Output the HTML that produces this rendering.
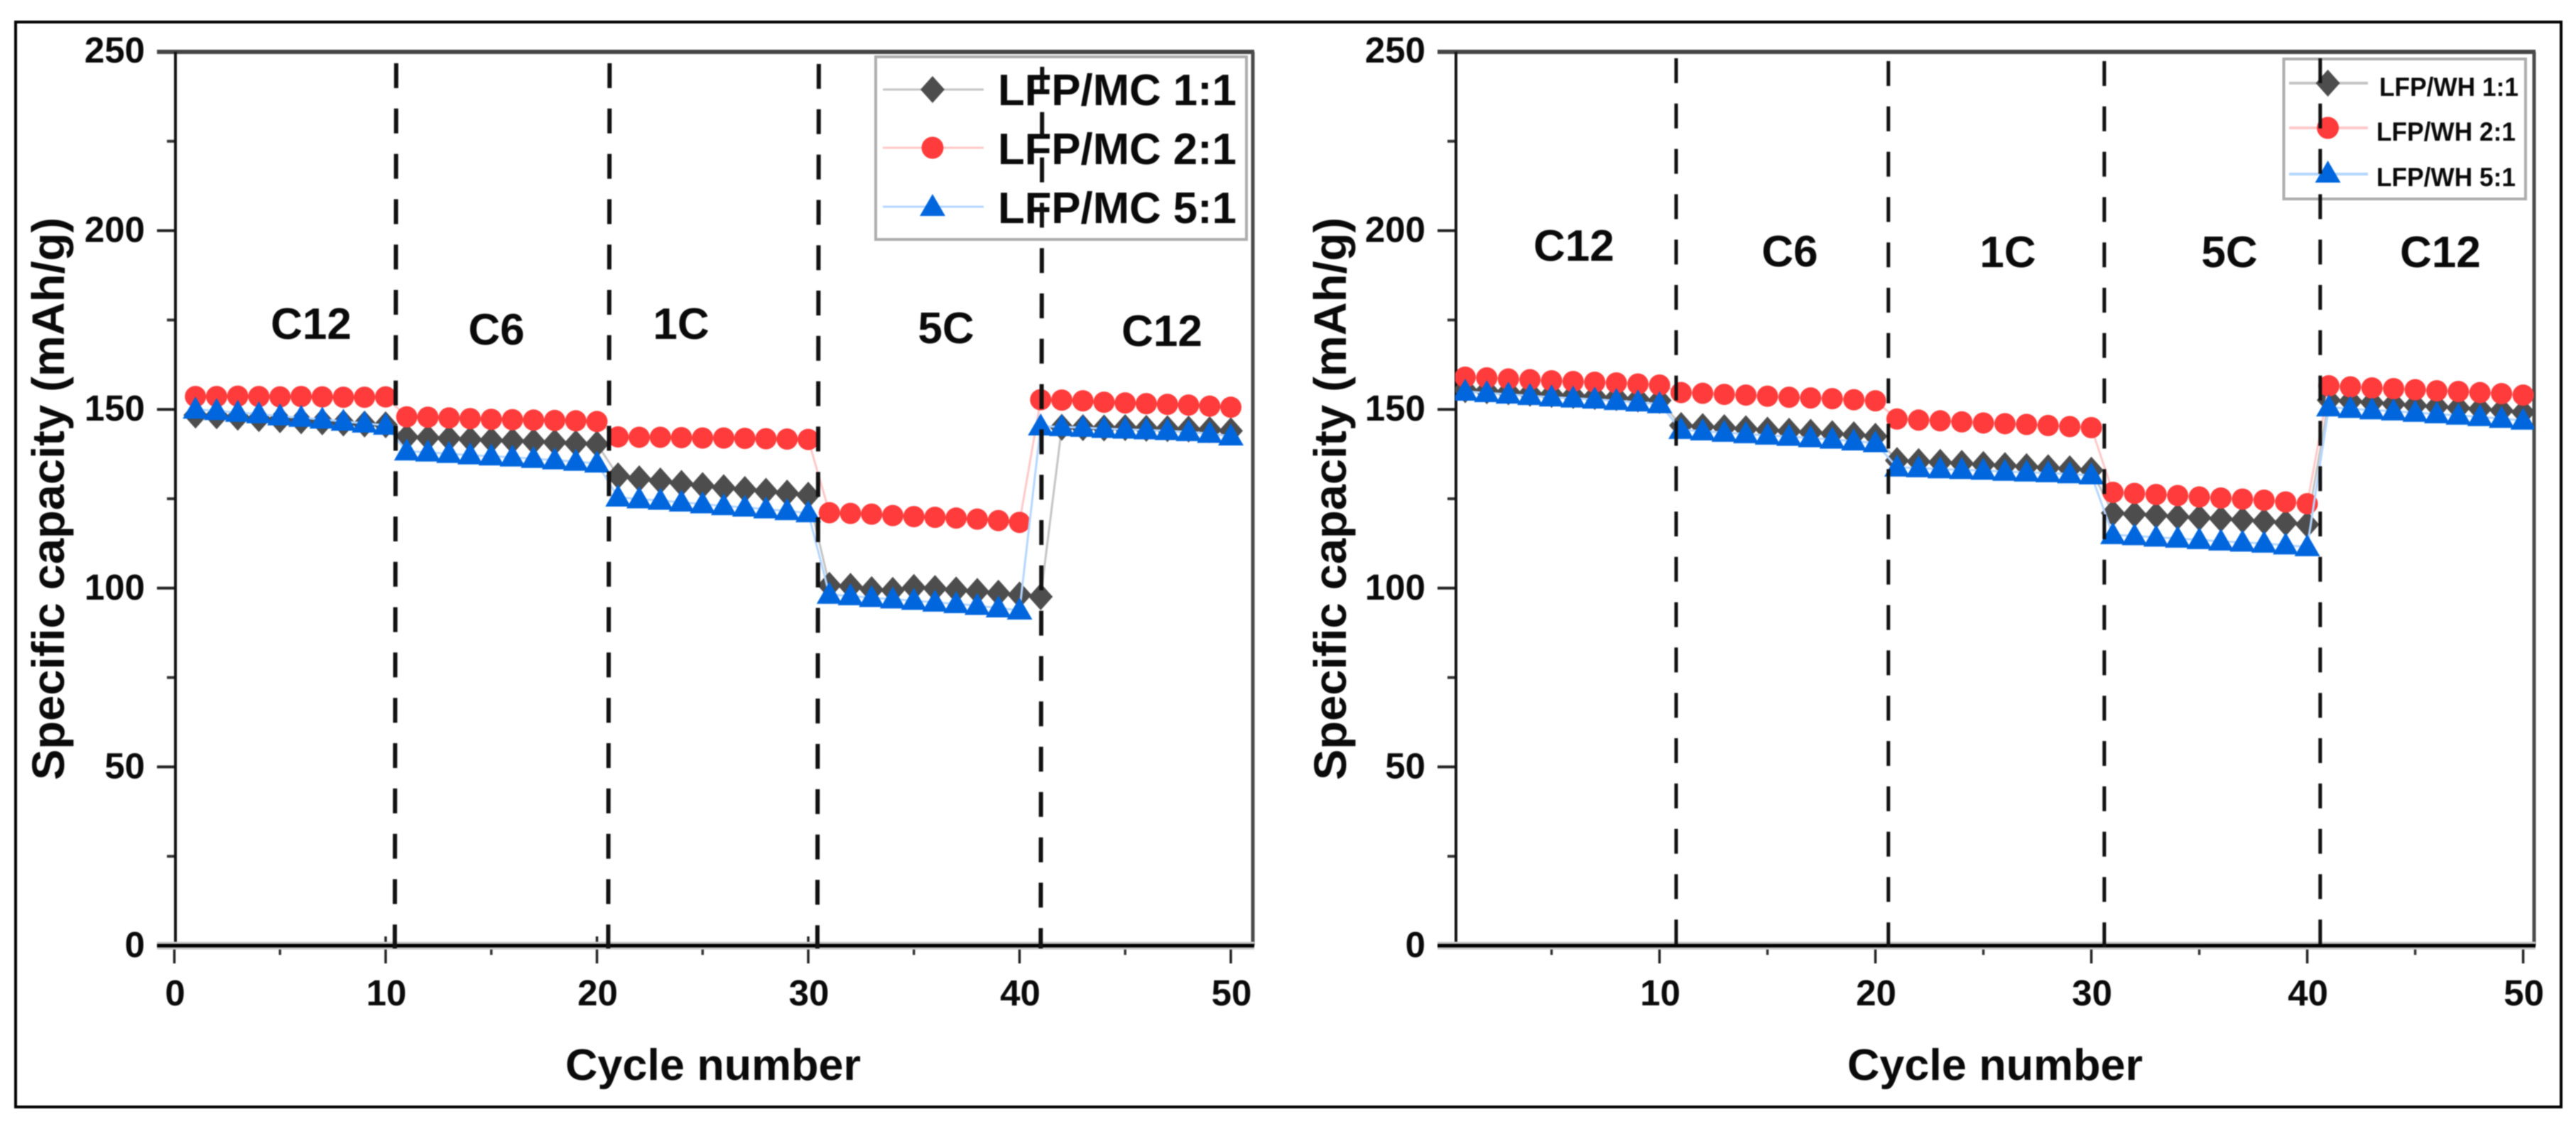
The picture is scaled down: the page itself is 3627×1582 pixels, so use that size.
<!DOCTYPE html>
<html lang="en">
<head>
<meta charset="utf-8">
<title>Specific capacity rate performance</title>
<style>
html,body{margin:0;padding:0;background:#fff;}
#figure{display:block;width:3627px;height:1582px;filter:blur(0.9px);}
text{font-family:"Liberation Sans",Arial,sans-serif;font-weight:bold;fill:#0a0a0a;}
</style>
</head>
<body>
<svg id="figure" xmlns="http://www.w3.org/2000/svg" width="3627" height="1582" viewBox="0 0 3627 1582">
  <defs>
    <clipPath id="clip-left"><rect x="247" y="73" width="1517" height="1258"/></clipPath>
    <clipPath id="clip-right"><rect x="2049" y="73" width="1519" height="1258"/></clipPath>
  </defs>
  <rect x="0" y="0" width="3627" height="1582" fill="#fff"/>
  <rect x="22" y="31" width="3584" height="1527" fill="#fff" stroke="#000" stroke-width="4"/>

  <g id="panel-left">
    <g id="left-axes"></g>
    <g id="left-marks" clip-path="url(#clip-left)"></g>
    <g>
      <rect x="1233" y="80" width="522" height="257" fill="#fff" stroke="#adadad" stroke-width="4"/>
      <g>
        <line x1="1243" x2="1385" y1="126" y2="126" stroke="#c4c4c4" stroke-width="3"/>
        <polygon points="1296,126 1313,107 1330,126 1313,145" fill="#4d4d4d"/>
        <text x="1405" y="148" font-size="62" textLength="336" lengthAdjust="spacingAndGlyphs">LFP/MC 1:1</text>
      </g>
      <g>
        <line x1="1243" x2="1385" y1="208" y2="208" stroke="#ffc8c8" stroke-width="3"/>
        <circle cx="1313" cy="208" r="15.5" fill="#ff3b3b"/>
        <text x="1405" y="231" font-size="62" textLength="336" lengthAdjust="spacingAndGlyphs">LFP/MC 2:1</text>
      </g>
      <g>
        <line x1="1243" x2="1385" y1="291" y2="291" stroke="#b4d6ff" stroke-width="3"/>
        <polygon points="1313,273 1331,304 1295,304" fill="#0066dd"/>
        <text x="1405" y="314" font-size="62" textLength="336" lengthAdjust="spacingAndGlyphs">LFP/MC 5:1</text>
      </g>
    </g>
    <g id="left-dividers"></g>
    <g>
      <text x="438" y="477" font-size="62" text-anchor="middle">C12</text>
      <text x="699" y="485" font-size="62" text-anchor="middle">C6</text>
      <text x="959" y="477" font-size="62" text-anchor="middle">1C</text>
      <text x="1332" y="483" font-size="62" text-anchor="middle">5C</text>
      <text x="1636" y="487" font-size="62" text-anchor="middle">C12</text>
    </g>
    <text transform="translate(90 702) rotate(-90)" font-size="64" text-anchor="middle" textLength="792" lengthAdjust="spacingAndGlyphs">Specific capacity (mAh/g)</text>
    <text x="796" y="1520" font-size="62" textLength="416" lengthAdjust="spacingAndGlyphs">Cycle number</text>
  </g>

  <g id="panel-right">
    <g id="right-axes"></g>
    <g id="right-marks" clip-path="url(#clip-right)"></g>
    <g>
      <rect x="3215.5" y="83" width="340.5" height="197" fill="#fff" stroke="#adadad" stroke-width="4"/>
      <g>
        <line x1="3223" x2="3334" y1="117" y2="117" stroke="#c4c4c4" stroke-width="4"/>
        <polygon points="3260.6,117 3277.6,98 3294.6,117 3277.6,136" fill="#4d4d4d"/>
        <text x="3350" y="135" font-size="37" textLength="196" lengthAdjust="spacingAndGlyphs">LFP/WH 1:1</text>
      </g>
      <g>
        <line x1="3223" x2="3334" y1="180" y2="180" stroke="#ffc8c8" stroke-width="4"/>
        <circle cx="3277.6" cy="180" r="15.5" fill="#ff3b3b"/>
        <text x="3346" y="198" font-size="37" textLength="196" lengthAdjust="spacingAndGlyphs">LFP/WH 2:1</text>
      </g>
      <g>
        <line x1="3223" x2="3334" y1="245" y2="245" stroke="#b4d6ff" stroke-width="4"/>
        <polygon points="3277.6,226 3295.6,257 3259.6,257" fill="#0066dd"/>
        <text x="3346" y="262" font-size="37" textLength="196" lengthAdjust="spacingAndGlyphs">LFP/WH 5:1</text>
      </g>
    </g>
    <g id="right-dividers"></g>
    <g>
      <text x="2216" y="367" font-size="62" text-anchor="middle">C12</text>
      <text x="2520" y="375" font-size="62" text-anchor="middle">C6</text>
      <text x="2827" y="376" font-size="62" text-anchor="middle">1C</text>
      <text x="3139" y="376" font-size="62" text-anchor="middle">5C</text>
      <text x="3436" y="376" font-size="62" text-anchor="middle">C12</text>
    </g>
    <text transform="translate(1895 702) rotate(-90)" font-size="64" text-anchor="middle" textLength="792" lengthAdjust="spacingAndGlyphs">Specific capacity (mAh/g)</text>
    <text x="2601" y="1520" font-size="62" textLength="416" lengthAdjust="spacingAndGlyphs">Cycle number</text>
  </g>
</svg>

<script>
const cycles = [1,2,3,4,5,6,7,8,9,10,11,12,13,14,15,16,17,18,19,20,21,22,23,24,25,26,27,28,29,30,31,32,33,34,35,36,37,38,39,40,41,42,43,44,45,46,47,48,49,50];

const mc11 = [148.4,148.2,147.8,147.4,147.1,146.8,146.5,146.2,145.9,145.7,
  142.3,142.1,141.9,141.6,141.4,141.2,141.0,140.8,140.5,140.3,
  131.4,130.6,130.0,129.3,128.7,128.1,127.6,127.1,126.6,126.0,
  100.8,100.5,99.6,99.4,100.2,99.9,99.5,99.1,98.6,98.1,
  97.6,145.0,144.9,144.8,144.9,144.7,144.6,144.5,144.3,144.0];
const mc21 = [153.6,153.6,153.7,153.6,153.5,153.6,153.5,153.4,153.4,153.5,
  147.9,147.8,147.6,147.4,147.2,147.1,147.0,146.9,146.8,146.6,
  142.3,142.2,142.2,142.1,142.0,142.0,141.9,141.8,141.7,141.6,
  121.1,120.9,120.7,120.3,120.0,119.8,119.6,119.3,118.9,118.4,
  152.7,152.6,152.4,152.0,151.8,151.6,151.4,151.2,150.9,150.6];
const mc51 = [150.0,149.6,149.1,148.7,148.1,147.7,147.2,146.6,146.1,145.5,
  138.3,138.0,137.6,137.2,136.9,136.6,136.2,135.8,135.4,134.9,
  125.4,124.9,124.5,124.0,123.5,123.0,122.6,122.1,121.6,121.0,
  98.2,97.8,97.3,96.9,96.5,96.0,95.6,95.1,94.4,93.8,
  145.3,145.1,144.9,144.6,144.4,144.2,144.0,143.7,143.2,142.5];

const wh11 = [155.5,155.2,154.9,154.5,154.2,153.9,153.6,153.3,152.9,152.5,
  145.5,145.2,144.9,144.6,144.2,143.9,143.6,143.2,142.9,142.5,
  135.7,135.4,135.2,134.9,134.6,134.3,134.0,133.7,133.4,133.0,
  121.0,120.7,120.4,120.0,119.7,119.4,119.1,118.7,118.3,117.8,
  152.6,152.3,151.9,151.5,151.1,150.8,150.4,150.1,149.7,149.2];
const wh21 = [159.0,158.8,158.5,158.3,158.0,157.8,157.6,157.4,157.1,156.8,
  154.7,154.5,154.2,154.0,153.7,153.4,153.2,153.0,152.7,152.4,
  147.3,147.0,146.8,146.5,146.2,146.0,145.8,145.5,145.2,144.9,
  126.8,126.5,126.2,125.9,125.5,125.2,124.9,124.6,124.1,123.6,
  156.6,156.3,156.0,155.8,155.5,155.2,155.0,154.7,154.4,154.0];
const wh51 = [155.0,154.6,154.2,153.8,153.4,153.1,152.8,152.4,152.0,151.5,
  144.3,143.9,143.5,143.1,142.7,142.4,142.0,141.6,141.1,140.6,
  133.8,133.6,133.3,133.1,132.9,132.6,132.4,132.2,131.9,131.6,
  114.9,114.6,114.2,113.9,113.5,113.1,112.8,112.5,112.0,111.5,
  150.6,150.2,149.8,149.5,149.1,148.7,148.3,147.9,147.4,146.9];

const yMajorTicks = [0,50,100,150,200,250];
const yMinorTicks = [25,75,125,175,225];
const leftXMajorTicks = [0,10,20,30,40,50];
const leftXMinorTicks = [5,15,25,35,45];
const rightXMajorTicks = [10,20,30,40,50];
const rightXMinorTicks = [5,15,25,35,45];
const leftDividers = [10.5,20.6,30.5,41.07];
const rightDividers = [10.77,20.6,30.6,40.6];

const SVGNS = 'http://www.w3.org/2000/svg';
function make(tag, attrs, parent) {
  const el = document.createElementNS(SVGNS, tag);
  for (const key in attrs) el.setAttribute(key, attrs[key]);
  parent.appendChild(el);
  return el;
}
const yScale = v => 1331 - v * 5.032;

function drawAxes(group, xScale, cfg) {
  // y ticks
  yMajorTicks.forEach(v => {
    const t = make('line', {x1: cfg.axisLeft - 26, x2: cfg.axisLeft, y1: yScale(v), y2: yScale(v), stroke: '#222', 'stroke-width': 4}, group);
    
    
    const base = v === 250 ? yScale(v) + 15 : yScale(v) + 16;
    const lab = make('text', {x: cfg.axisLeft - 43, y: base, 'font-size': 51, 'text-anchor': 'end'}, group);
    lab.textContent = String(v);
    
    
  });
  yMinorTicks.forEach(v => {
    const t = make('line', {x1: cfg.axisLeft - 12, x2: cfg.axisLeft, y1: yScale(v), y2: yScale(v), stroke: '#333', 'stroke-width': 4}, group);
    
    
  });
  // x ticks
  cfg.xMajor.forEach(v => {
    const top = cfg.upperTicks.indexOf(v) >= 0 ? 1318 : 1331;
    const t = make('line', {x1: xScale(v), x2: xScale(v), y1: top, y2: 1356, stroke: '#222', 'stroke-width': 3.5}, group);
    
    
    const lab = make('text', {x: xScale(v) + 1, y: 1415, 'font-size': 51, 'text-anchor': 'middle'}, group);
    lab.textContent = String(v);
    
    
  });
  cfg.xMinor.forEach(v => {
    const t = make('line', {x1: xScale(v), x2: xScale(v), y1: 1331, y2: 1344, stroke: '#333', 'stroke-width': 3.5}, group);
    
    
  });
  // spines
  const top = make('line', {x1: cfg.axisLeft - 26, x2: cfg.axisRight + 2, y1: 73, y2: 73, stroke: '#444', 'stroke-width': 6}, group);
  
  
  const right = make('line', {x1: cfg.axisRight, x2: cfg.axisRight, y1: 73, y2: 1331, stroke: '#4a4a4a', 'stroke-width': 5}, group);
  
  
  const left = make('line', {x1: cfg.axisLeft, x2: cfg.axisLeft, y1: 73, y2: 1331, stroke: '#111', 'stroke-width': 4}, group);
  
  
  const halo = make('line', {x1: cfg.axisLeft - 26, x2: cfg.axisRight + 2, y1: 1331, y2: 1331, stroke: '#c8c8c8', 'stroke-width': 11}, group);
  
  
  const bottom = make('line', {x1: cfg.axisLeft - 26, x2: cfg.axisRight + 2, y1: 1331, y2: 1331, stroke: '#000', 'stroke-width': 5}, group);
  
  
}

function drawSeries(group, xScale, values, kind, name) {
  const styles = {
    diamond: {line: '#c4c4c4', fill: '#4d4d4d'},
    circle: {line: '#ffc8c8', fill: '#ff3b3b'},
    triangle: {line: '#b4d6ff', fill: '#0066dd'}
  };
  const st = styles[kind];
  const pts = values.map((v, i) => xScale(cycles[i]).toFixed(1) + ',' + yScale(v).toFixed(1)).join(' ');
  const line = make('polyline', {points: pts, fill: 'none', stroke: st.line, 'stroke-width': 3}, group);
  
  
  values.forEach((v, i) => {
    const x = xScale(cycles[i]);
    const y = yScale(v);
    let m;
    if (kind === 'circle') {
      m = make('circle', {cx: x, cy: y, r: 15, fill: st.fill}, group);
    } else if (kind === 'diamond') {
      m = make('polygon', {points: [(x-17)+','+y, x+','+(y-19), (x+17)+','+y, x+','+(y+19)].join(' '), fill: st.fill}, group);
    } else {
      m = make('polygon', {points: [x+','+(y-18), (x+18)+','+(y+13), (x-18)+','+(y+13)].join(' '), fill: st.fill}, group);
    }
    
    
  });
}

function drawDividers(group, xScale, dividers, tops, tilt, width) {
  dividers.forEach((v, i) => {
    const d = make('line', {x1: xScale(v), x2: xScale(v) + tilt, y1: tops[i], y2: 1335, stroke: '#111', 'stroke-width': width, 'stroke-dasharray': '35 28.8'}, group);
    
    
  });
}

const leftX = v => 245.5 + v * 29.75;
const rightX = v => 2032.6 + v * 30.4;

drawAxes(document.getElementById('left-axes'), leftX, {axisLeft: 247, axisRight: 1764, xMajor: leftXMajorTicks, xMinor: leftXMinorTicks, upperTicks: [10,20,30]});
drawAxes(document.getElementById('right-axes'), rightX, {axisLeft: 2050, axisRight: 3568, xMajor: rightXMajorTicks, xMinor: rightXMinorTicks, upperTicks: []});

const leftMarks = document.getElementById('left-marks');
drawSeries(leftMarks, leftX, mc11, 'diamond', 'mc-1-1');
drawSeries(leftMarks, leftX, mc21, 'circle', 'mc-2-1');
drawSeries(leftMarks, leftX, mc51, 'triangle', 'mc-5-1');

const rightMarks = document.getElementById('right-marks');
drawSeries(rightMarks, rightX, wh11, 'diamond', 'wh-1-1');
drawSeries(rightMarks, rightX, wh21, 'circle', 'wh-2-1');
drawSeries(rightMarks, rightX, wh51, 'triangle', 'wh-5-1');

drawDividers(document.getElementById('left-dividers'), leftX, leftDividers, [89,89,90,94], -2, 6);
drawDividers(document.getElementById('right-dividers'), rightX, rightDividers, [82,86,86,82], 0, 5);
</script>
</body>
</html>
